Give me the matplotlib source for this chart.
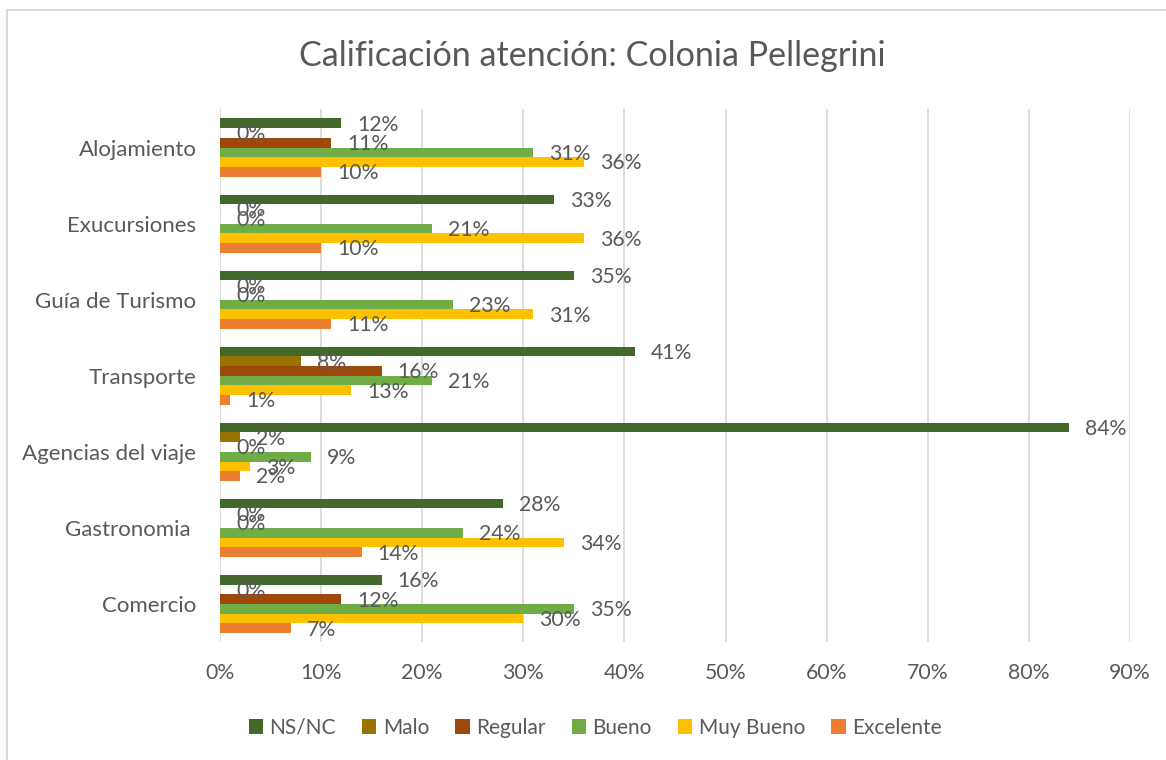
import matplotlib.pyplot as plt
import matplotlib.patches as mpatches
import numpy as np

categories = ["Alojamiento", "Exucursiones", "Guía de Turismo", "Transporte",
              "Agencias del viaje", "Gastronomia ", "Comercio"]
series = ["NS/NC", "Malo", "Regular", "Bueno", "Muy Bueno", "Excelente"]
ns_nc = [12, 33, 35, 41, 84, 28, 16]
malo = [0, 0, 0, 8, 2, 0, 0]
regular = [11, 0, 0, 16, 0, 0, 12]
bueno = [31, 21, 23, 21, 9, 24, 35]
muy_bueno = [36, 36, 31, 13, 3, 34, 30]
excelente = [10, 10, 11, 1, 2, 14, 7]
colors = ["#43682B", "#997300", "#9E480E", "#70AD47", "#FFC000", "#ED7D31"]

values = [ns_nc, malo, regular, bueno, muy_bueno, excelente]
text_color = "#595959"
font = "Lato"

fig = plt.figure(figsize=(11.66, 7.6), dpi=100)
ax = fig.add_axes([220 / 1166, 118 / 760, 910 / 1166, 532.5 / 760])

# chart border (Excel chart area)
fig.patches.append(mpatches.Rectangle((7 / 1166, -0.1), 1.1, 0.1 + 750 / 760,
                                      transform=fig.transFigure, fill=False,
                                      edgecolor="#D9D9D9", linewidth=1.5))

y = np.arange(len(categories))
bar_h = 0.1275
for i, (name, vals) in enumerate(zip(series, values)):
    pos = y - 2.5 * bar_h + i * bar_h
    ax.barh(pos, [v / 100 for v in vals], height=bar_h, color=colors[i],
            label=name, zorder=3)
    for p, v in zip(pos, vals):
        ax.annotate(f"{v}%", (v / 100, p), xytext=(11.5, -1),
                    textcoords="offset points", ha="left", va="center",
                    fontsize=15.3, color=text_color, family=font, zorder=4)

ax.set_xlim(0, 0.9)
ax.set_ylim(6.5, -0.5)
ax.set_xticks(np.arange(0, 0.91, 0.1))
ax.set_xticklabels([f"{int(round(t * 100))}%" for t in np.arange(0, 0.91, 0.1)])
ax.set_yticks(y)
ax.set_yticklabels(categories)
ax.tick_params(axis="both", length=0, labelcolor=text_color)
ax.tick_params(axis="x", pad=15, labelsize=15.3)
ax.tick_params(axis="y", pad=17, labelsize=16)
for lab in ax.get_xticklabels() + ax.get_yticklabels():
    lab.set_family(font)
ax.grid(axis="x", color="#D9D9D9", linewidth=1.3, zorder=0)
for s in ax.spines.values():
    s.set_visible(False)

fig.suptitle("Calificación atención: Colonia Pellegrini", x=0.5 + 9 / 1166,
             y=1 - 56 / 760, va="center", fontsize=24.6, color=text_color,
             family=font)

leg = fig.legend(loc="center", bbox_to_anchor=(595 / 1166, 1 - 728 / 760), ncol=6,
                 frameon=False, handlelength=0.7, handleheight=0.7,
                 handletextpad=0.3, columnspacing=1.25,
                 prop={"family": font, "size": 15})
for t in leg.get_texts():
    t.set_color(text_color)

fig.savefig("out.png", dpi=100)
